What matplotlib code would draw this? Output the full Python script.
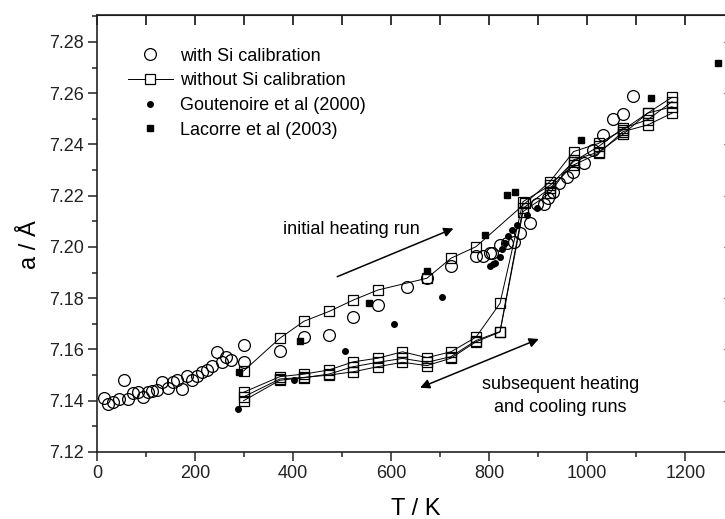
import matplotlib.pyplot as plt
from matplotlib.lines import Line2D
from matplotlib.ticker import MultipleLocator

plt.rcParams["font.family"] = ["Liberation Sans", "DejaVu Sans"]

# with Si calibration (open circles)
si_T = [14, 23, 33, 44, 55, 64, 74, 83, 93, 103, 113, 123, 133, 144, 154, 164,
        174, 183, 193, 203, 214, 224, 234, 244, 254, 263, 273, 299, 299, 373,
        422, 474, 523, 573, 632, 673, 722, 773, 787, 802, 805, 822, 836, 850,
        862, 884, 897, 912, 920, 930, 943, 959, 971, 994, 1012, 1033, 1053,
        1073, 1093]
si_a = [7.1410, 7.1388, 7.1396, 7.1406, 7.1480, 7.1406, 7.1432, 7.1435, 7.1413,
        7.1433, 7.1438, 7.1442, 7.1472, 7.1448, 7.1474, 7.1481, 7.1445, 7.1498,
        7.1481, 7.1498, 7.1511, 7.1520, 7.1537, 7.1591, 7.1550, 7.1570, 7.1559,
        7.1618, 7.1550, 7.1595, 7.1648, 7.1655, 7.1728, 7.1774, 7.1845, 7.1878,
        7.1926, 7.1965, 7.1965, 7.1977, 7.1975, 7.2008, 7.2014, 7.2021, 7.2053,
        7.2092, 7.2168, 7.2168, 7.2190, 7.2215, 7.2250, 7.2274, 7.2294, 7.2328,
        7.2378, 7.2437, 7.2500, 7.2519, 7.2589]

# without Si calibration: initial heating run and subsequent runs
runA_T = [299, 373, 422, 474, 523, 573, 673, 722, 773, 873, 924, 972, 1023,
          1073, 1123, 1173]
runA_a = [7.1516, 7.1644, 7.1710, 7.1749, 7.1793, 7.1832, 7.1878, 7.1956,
          7.2001, 7.2170, 7.2255, 7.2372, 7.2404, 7.2457, 7.2522, 7.2584]

runs_T = [299, 373, 422, 473, 523, 573, 623, 673, 722, 773, 822, 869, 924, 972,
          1023, 1073, 1123, 1173]
runB_a = [7.1433, 7.1494, 7.1504, 7.1520, 7.1552, 7.1566, 7.1591, 7.1568, 7.1591,
          7.1648, 7.1780, 7.2177, 7.2240, 7.2333, 7.2392, 7.2463, 7.2496, 7.2567]
runC_a = [7.1400, 7.1480, 7.1490, 7.1504, 7.1533, 7.1550, 7.1565, 7.1550, 7.1572,
          7.1635, 7.1670, 7.2151, 7.2229, 7.2320, 7.2365, 7.2450, 7.2476, 7.2522]
runD_a = [7.1415, 7.1485, 7.1491, 7.1500, 7.1513, 7.1533, 7.1550, 7.1537, 7.1566,
          7.1630, 7.1668, 7.2138, 7.2210, 7.2340, 7.2370, 7.2440, 7.2522, 7.2547]

# Goutenoire et al (2000)
gou_T = [288, 401, 506, 605, 703, 802, 808, 812, 821, 826, 833, 839, 846, 857,
         877, 897]
gou_a = [7.1368, 7.1481, 7.1595, 7.1698, 7.1806, 7.1926, 7.1934, 7.1937, 7.1960,
         7.1991, 7.2017, 7.2043, 7.2066, 7.2086, 7.2125, 7.2151]

# Lacorre et al (2003)
lac_T = [290, 414, 554, 673, 792, 836, 853, 987, 1129, 1267]
lac_a = [7.1513, 7.1634, 7.1783, 7.1908, 7.2047, 7.2203, 7.2216, 7.2418, 7.2583,
         7.2717]

fig = plt.figure(figsize=(7.25, 5.19), dpi=100)
ax = fig.add_axes([0.1338, 0.1291, 0.8703, 0.842])

ax.plot(si_T, si_a, "o", ms=8.5, mfc="none", mec="black", mew=0.9)
for T, a in [(runA_T, runA_a), (runs_T, runB_a), (runs_T, runC_a), (runs_T, runD_a)]:
    ax.plot(T, a, "-s", color="black", lw=0.7, ms=7.5, mfc="none", mec="black",
            mew=0.9)
ax.plot(gou_T, gou_a, "o", ms=4, color="black")
ax.plot(lac_T, lac_a, "s", ms=4.5, color="black")

ax.set_xlim(0, 1287)
ax.set_ylim(7.12, 7.2905)

ax.xaxis.set_major_locator(MultipleLocator(200))
ax.xaxis.set_minor_locator(MultipleLocator(100))
ax.yaxis.set_major_locator(MultipleLocator(0.02))
ax.yaxis.set_minor_locator(MultipleLocator(0.01))
ax.yaxis.set_major_formatter(plt.FormatStrFormatter("%.2f"))
ax.tick_params(axis="both", which="both", direction="out", top=False, right=False,
               labelsize=13, width=1.1, colors="#222222")
ax.tick_params(which="major", length=6.5, pad=3)
ax.tick_params(which="minor", length=3.5)

# mirrored top/right axis with inward ticks
top = ax.secondary_xaxis("top")
top.xaxis.set_major_locator(MultipleLocator(100))
top.tick_params(direction="in", length=7, width=1.1, labeltop=False)
right = ax.secondary_yaxis("right")
right.yaxis.set_major_locator(MultipleLocator(0.02))
right.tick_params(direction="in", length=3, width=0.8, labelright=False)
right.spines["right"].set_visible(False)

for s in ax.spines.values():
    s.set_linewidth(1.2)
    s.set_color("#222222")

ax.set_xlabel("T / K", fontsize=17)
ax.set_ylabel("a / Å", fontsize=17)
ax.xaxis.set_label_coords(0.505, -0.105)
ax.yaxis.set_label_coords(-0.088, 0.474)

ax.annotate("", xy=(727, 7.2072), xytext=(490, 7.1884),
            arrowprops=dict(arrowstyle="-|>", color="black", lw=1.1,
                            mutation_scale=14, shrinkA=0, shrinkB=0))
ax.text(518, 7.2070, "initial heating run", fontsize=13, ha="center", va="center")
ax.annotate("", xy=(901, 7.1641), xytext=(659, 7.1451),
            arrowprops=dict(arrowstyle="<|-|>", color="black", lw=1.1,
                            mutation_scale=14, shrinkA=0, shrinkB=0))
ax.text(945, 7.1418, "subsequent heating\nand cooling runs", fontsize=13,
        ha="center", va="center", linespacing=1.42)

handles = [
    Line2D([], [], ls="none", marker="o", ms=8.5, mfc="none", mec="black", mew=0.9),
    Line2D([], [], ls="-", color="black", lw=0.7, marker="s", ms=7.5, mfc="white",
           mec="black", mew=0.9),
    Line2D([], [], ls="none", marker="o", ms=4, color="black"),
    Line2D([], [], ls="none", marker="s", ms=4.5, color="black"),
]
labels = ["with Si calibration", "without Si calibration",
          "Goutenoire et al (2000)", "Lacorre et al (2003)"]
ax.legend(handles, labels, loc="upper left", bbox_to_anchor=(0.049, 0.925),
          frameon=False, fontsize=13, handlelength=2.5, handletextpad=0.4,
          labelspacing=0.42, borderpad=0, borderaxespad=0)

fig.savefig("out.png", dpi=100)
